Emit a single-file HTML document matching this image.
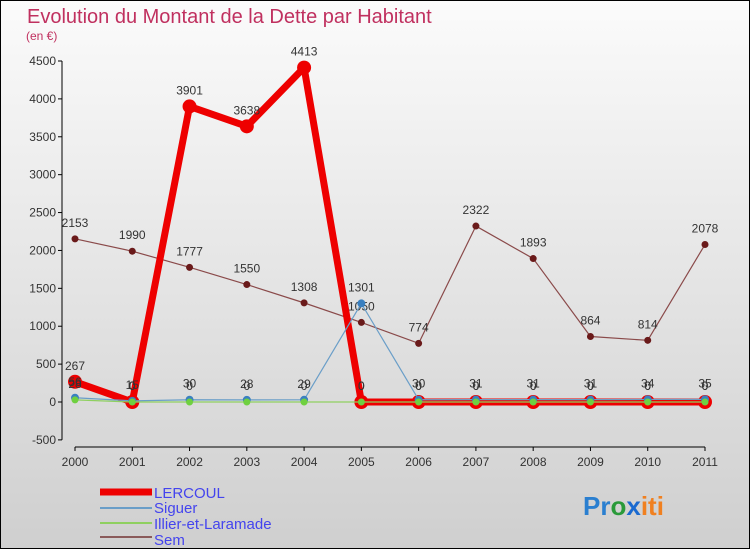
<!DOCTYPE html>
<html><head><meta charset="utf-8"><style>
body{margin:0;width:750px;height:550px;overflow:hidden;font-family:"Liberation Sans",sans-serif}
svg text{font-family:"Liberation Sans",sans-serif}
</style></head><body>
<svg id="c" width="750" height="550" xmlns="http://www.w3.org/2000/svg">
<defs><linearGradient id="bg" x1="0" y1="0" x2="0" y2="1"><stop offset="0" stop-color="#fbfbfb"/><stop offset="1" stop-color="#cfcfcf"/></linearGradient></defs>
<rect x="0.5" y="0.5" width="749" height="548" fill="url(#bg)" stroke="#000"/>
<text x="27" y="23" font-size="20" fill="#c0305f">Evolution du Montant de la Dette par Habitant</text>
<text x="26" y="40" font-size="12" fill="#c0305f">(en €)</text>
<g id="axes"></g><g id="series"></g>
<g font-size="15" fill="#4444ee">
<line x1="100" y1="492" x2="152" y2="492" stroke="#e00" stroke-width="7"/><text x="154" y="498" fill="#4444ee">LERCOUL</text>
<line x1="100" y1="508" x2="152" y2="508" stroke="#6a9ec8" stroke-width="2"/><text x="154" y="513" fill="#4444ee">Siguer</text>
<line x1="100" y1="523" x2="152" y2="523" stroke="#8fd060" stroke-width="2"/><text x="154" y="529" fill="#4444ee">Illier-et-Laramade</text>
<line x1="100" y1="537" x2="152" y2="537" stroke="#8a5a5a" stroke-width="2"/><text x="154" y="545" fill="#4444ee">Sem</text>
</g>
<text x="583" y="515" font-size="26" font-weight="bold"><tspan fill="#2a7fd0">Pr</tspan><tspan fill="#2a9a3a">o</tspan><tspan fill="#1a6ad0">x</tspan><tspan fill="#f08020">iti</tspan></text>
</svg>
<script>
const years=["2000","2001","2002","2003","2004","2005","2006","2007","2008","2009","2010","2011"];
const yTicks=[-500,0,500,1000,1500,2000,2500,3000,3500,4000,4500];
const lercoul=[267,0,3901,3638,4413,0,0,0,0,0,0,0];
const siguer=[56,15,30,28,29,1301,30,31,31,31,34,35];
const illier=[28,0,0,0,0,0,0,0,0,0,0,0];
const sem=[2153,1990,1777,1550,1308,1050,774,2322,1893,864,814,2078];
const NS="http://www.w3.org/2000/svg";
const x=i=>75+i*(630/11);
const y=v=>402-v*(341/4500);
function mk(t,a,p){const e=document.createElementNS(NS,t);for(const k in a)e.setAttribute(k,a[k]);p.appendChild(e);return e;}
const ax=document.getElementById('axes'),sg=document.getElementById('series');
mk('line',{x1:62,y1:y(4500),x2:62,y2:y(-500),stroke:'#000'},ax);
mk('line',{x1:75,y1:447,x2:705,y2:447,stroke:'#000'},ax);
yTicks.forEach(v=>{mk('line',{x1:58,y1:y(v),x2:62,y2:y(v),stroke:'#000'},ax);
const t=mk('text',{x:56,y:y(v)+4,'text-anchor':'end','font-size':12,fill:'#333'},ax);t.textContent=v;

});
years.forEach((yr,i)=>{mk('line',{x1:x(i),y1:447,x2:x(i),y2:451,stroke:'#000'},ax);
const t=mk('text',{x:x(i),y:466,'text-anchor':'middle','font-size':12,fill:'#333'},ax);t.textContent=yr;

});
function series(d,col,w,r,dot,name){
const g=mk('g',{},sg);


mk('polyline',{points:d.map((v,i)=>x(i)+','+y(v)).join(' '),fill:'none',stroke:col,'stroke-width':w,'stroke-linejoin':'round'},g);
d.forEach((v,i)=>{mk('circle',{cx:x(i),cy:y(v),r:r,fill:dot},g);
const t=mk('text',{x:x(i),y:y(v)-12,'text-anchor':'middle','font-size':12,fill:'#333'},g);t.textContent=v;});}
series(sem,'#8a4a4a',1.2,3.5,'#6a1a1a','series-sem');
series(lercoul,'#e00',7,7,'#e00','series-lercoul');
series(siguer,'#6a9ec8',1.2,4,'#3a80c0','series-siguer');
series(illier,'#8fd060',1.2,3.5,'#6fd040','series-illier');
</script>
</body></html>
